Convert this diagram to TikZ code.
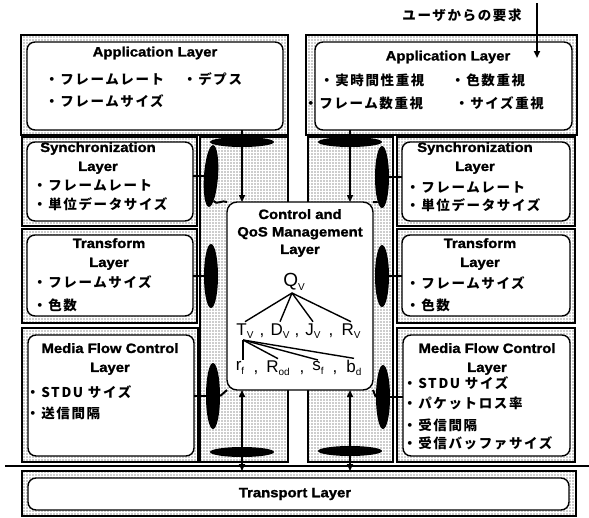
\documentclass[tikz,border=0pt]{standalone}
\usepackage{fontspec}
\setmainfont{Liberation Sans}
\newfontfamily\jp{Noto Sans CJK JP}[LetterSpace=12]
\newfontfamily\ttl{Liberation Sans Bold}[FakeStretch=1.1,FakeBold=1.5]
\usetikzlibrary{shapes.geometric,patterns.meta,arrows.meta}
\newcommand\symsub[2]{#1\raisebox{-3.5pt}{\fontsize{10}{10}\selectfont #2}}
\begin{document}
\begin{tikzpicture}[x=1pt,y=-1pt,
  frame/.style={draw, line width=1.5pt, pattern={Dots[distance=3pt,radius=0.6pt]}, pattern color=black!85, inner sep=0, outer sep=0},
  ibox/.style={draw, line width=1.4pt, rounded corners=8pt, fill=white, inner sep=0, outer sep=0},
  ttlf/.style={font=\ttl\fontsize{13.5}{19}\selectfont, inner sep=0, align=center},
  item/.style={font=\jp\bfseries\fontsize{13.5}{15}\selectfont, anchor=west, inner sep=0},
  sym/.style={font=\fontsize{17}{17}\selectfont, inner sep=1.5pt},
  hblob/.style={ellipse, fill=black, inner sep=0, minimum width=64pt, minimum height=10pt},
  vblob/.style={ellipse, fill=black, inner sep=0, minimum width=14pt, minimum height=62pt},
  hconn/.style={line width=2.6pt},
  vline/.style={line width=1.5pt},
  tree/.style={line width=1.4pt},
  tipd/.style={-{Triangle[width=6pt,length=7pt]}},
  tipb/.style={{Triangle[width=6pt,length=7pt]}-{Triangle[width=6pt,length=7pt]}}
]
\useasboundingbox (0,0) rectangle (589,517);
% outer frames
\node[frame, minimum width=267pt, minimum height=100pt] (appLo) at (154.5,85) {};
\node[frame, minimum width=271pt, minimum height=100pt] (appRo) at (441.5,85) {};
\node[frame, minimum width=175pt, minimum height=89pt] (syncLo) at (109.5,181.5) {};
\node[frame, minimum width=175pt, minimum height=94pt] (trLo) at (109.5,276) {};
\node[frame, minimum width=176pt, minimum height=134pt] (mfLo) at (110,395) {};
\node[frame, minimum width=178pt, minimum height=89pt] (syncRo) at (486,181.5) {};
\node[frame, minimum width=178pt, minimum height=94pt] (trRo) at (486,276) {};
\node[frame, minimum width=178pt, minimum height=134pt] (mfRo) at (486,395) {};
\node[frame, minimum width=88pt, minimum height=325pt] (colL) at (244,299.5) {};
\node[frame, minimum width=85pt, minimum height=325pt] (colR) at (350.5,299.5) {};
\node[frame, minimum width=554pt, minimum height=45pt] (tpo) at (299,493.5) {};
% inner boxes
\node[ibox, minimum width=256pt, minimum height=88pt] (appLi) at (155,86) {};
\node[ibox, minimum width=257pt, minimum height=88pt] (appRi) at (443.5,86) {};
\node[ibox, minimum width=166pt, minimum height=79pt] (syncLi) at (110,181.5) {};
\node[ibox, minimum width=166pt, minimum height=81pt] (trLi) at (110,275.5) {};
\node[ibox, minimum width=166pt, minimum height=121pt] (mfLi) at (111,395.5) {};
\node[ibox, minimum width=168pt, minimum height=79pt] (syncRi) at (486,181.5) {};
\node[ibox, minimum width=168pt, minimum height=81pt] (trRi) at (486,275.5) {};
\node[ibox, minimum width=167pt, minimum height=121pt] (mfRi) at (486.5,395.5) {};
\node[ibox, minimum width=541pt, minimum height=32pt] (tpi) at (298.5,494) {};
\node[ibox, rounded corners=10pt, minimum width=146pt, minimum height=188pt] (ctrl) at (300,296) {};
% blobs
\node[hblob] (eTL) at (242,142) {};
\node[hblob] (eTR) at (350,142) {};
\node[hblob] (eBL) at (242,452) {};
\node[hblob] (eBR) at (350,451) {};
\node[vblob, rotate=-4] (eSL) at (211,176) {};
\node[vblob] (eSR) at (382,177) {};
\node[vblob, minimum height=64pt] (eTrL) at (211,276) {};
\node[vblob] (eTrR) at (382,276) {};
\node[vblob, minimum height=66pt] (eML) at (213,396) {};
\node[vblob, minimum height=64pt] (eMR) at (383,397) {};
% horizontal connectors
\draw[hconn] (eSL.center) -- (eSL.center -| syncLi.east);
\draw[hconn] (eTrL.center) -- (eTrL.center -| trLi.east);
\draw[hconn] (eML.center) -- (eML.center -| mfLi.east);
\draw[hconn] (eSR.center) -- (eSR.center -| syncRi.west);
\draw[hconn] (eTrR.center) -- (eTrR.center -| trRi.west);
\draw[hconn] (eMR.center) -- (eMR.center -| mfRi.west);
% corner links
\draw[line width=2pt] (eSL.-80) to[out=-60,in=150] (ctrl.north west);
\draw[line width=2pt] (eSR.-100) to[out=-120,in=30] (ctrl.north east);
\draw[line width=2pt] (eML.east) -- (ctrl.south west);
\draw[line width=2pt] (eMR.west) -- (ctrl.south east);
% vertical arrows
\draw[vline, tipd] (appLi.south -| eTL.center) -- (ctrl.north -| eTL.center);
\draw[vline, tipd] (appRi.south -| eTR.center) -- (ctrl.north -| eTR.center);
\draw[vline, tipb] (ctrl.south -| eBL.center) -- (tpo.north -| eBL.center);
\draw[vline, tipb] (ctrl.south -| eBR.center) -- (tpo.north -| eBR.center);
% horizontal rule
\coordinate (hl1) at (5,466);
\coordinate (hl2) at (589,466);
\draw[line width=2pt] (hl1) -- (hl2);
% user request
\node[font=\jp\bfseries\fontsize{13.5}{15}\selectfont, inner sep=0] (ureq) at (462,15) {ユーザからの要求};
\coordinate (ua) at (537,3);
\coordinate (ub) at (537,58);
\draw[line width=2pt, tipd] (ua) -- (ub);
% texts: application layers
\node[ttlf] (tAL) at (155,53) {Application Layer};
\node[item] (aL1) at (45,79) {・フレームレート};
\node[item] (aL2) at (183,79) {・デプス};
\node[item] (aL3) at (45,101) {・フレームサイズ};
\node[ttlf] (tAR) at (448,57) {Application Layer};
\node[item] (aR1) at (320,80) {・実時間性重視};
\node[item] (aR2) at (451,80) {・色数重視};
\node[item] (aR3) at (304,103) {・フレーム数重視};
\node[item] (aR4) at (455,103) {・サイズ重視};
% left layers
\node[ttlf] (tSL) at (98,158) {Synchronization\\Layer};
\node[item] (sL1) at (33,185) {・フレームレート};
\node[item] (sL2) at (33,204) {・単位データサイズ};
\node[ttlf] (tTL) at (109,254) {Transform\\Layer};
\node[item] (trL1) at (33,282) {・フレームサイズ};
\node[item] (trL2) at (33,305) {・色数};
\node[ttlf] (tML) at (110,359) {Media Flow Control\\Layer};
\node[item] (mL1) at (26,392) {・STDU サイズ};
\node[item] (mL2) at (26,413) {・送信間隔};
% right layers
\node[ttlf] (tSR) at (475,158) {Synchronization\\Layer};
\node[item] (sR1) at (406,187) {・フレームレート};
\node[item] (sR2) at (406,205) {・単位データサイズ};
\node[ttlf] (tTR) at (480,254) {Transform\\Layer};
\node[item] (trR1) at (406,283) {・フレームサイズ};
\node[item] (trR2) at (406,305) {・色数};
\node[ttlf] (tMR) at (487,359) {Media Flow Control\\Layer};
\node[item] (mR1) at (403,383) {・STDU サイズ};
\node[item] (mR2) at (403,403) {・パケットロス率};
\node[item] (mR3) at (403,425) {・受信間隔};
\node[item] (mR4) at (403,443) {・受信バッファサイズ};
% transport
\node[ttlf] (tTP) at (295,494) {Transport Layer};
% control box
\node[ttlf, font=\ttl\fontsize{13.5}{17.5}\selectfont] (tC) at (300,233) {Control and\\QoS Management\\Layer};
\node[sym, font=\fontsize{19}{19}\selectfont] (qv) at (294,282) {\symsub{Q}{V}};
\node[sym] (tv) at (245,331) {\symsub{T}{V}};
\node[sym] (dv) at (280,331) {\symsub{D}{V}};
\node[sym] (jv) at (313,331) {\symsub{J}{V}};
\node[sym] (rv) at (351,331) {\symsub{R}{V}};
\node[sym] (c1) at (262,336) {,};
\node[sym] (c2) at (297,336) {,};
\node[sym] (c3) at (331,336) {,};
\node[sym] (rf) at (240,368) {\symsub{r}{f}};
\node[sym] (rod) at (278,368) {\symsub{R}{od}};
\node[sym] (sf) at (318,368) {\symsub{s}{f}};
\node[sym] (bd) at (354,368) {\symsub{b}{d}};
\node[sym] (c4) at (256,373) {,};
\node[sym] (c5) at (302,373) {,};
\node[sym] (c6) at (335,373) {,};
\coordinate (qb) at (292,293);
\coordinate (tb) at (243,340);
\draw[tree] (qb) -- (tv.north);
\draw[tree] (qb) -- (dv.north);
\draw[tree] (qb) -- (jv.north);
\draw[tree] (qb) -- (rv.north);
\draw[tree] (tb) -- (tb |- rf.north);
\draw[tree] (tb) -- (rod.north);
\draw[tree] (tb) -- (sf.north);
\draw[tree] (tb) -- (bd.north);
\end{tikzpicture}
\end{document}
